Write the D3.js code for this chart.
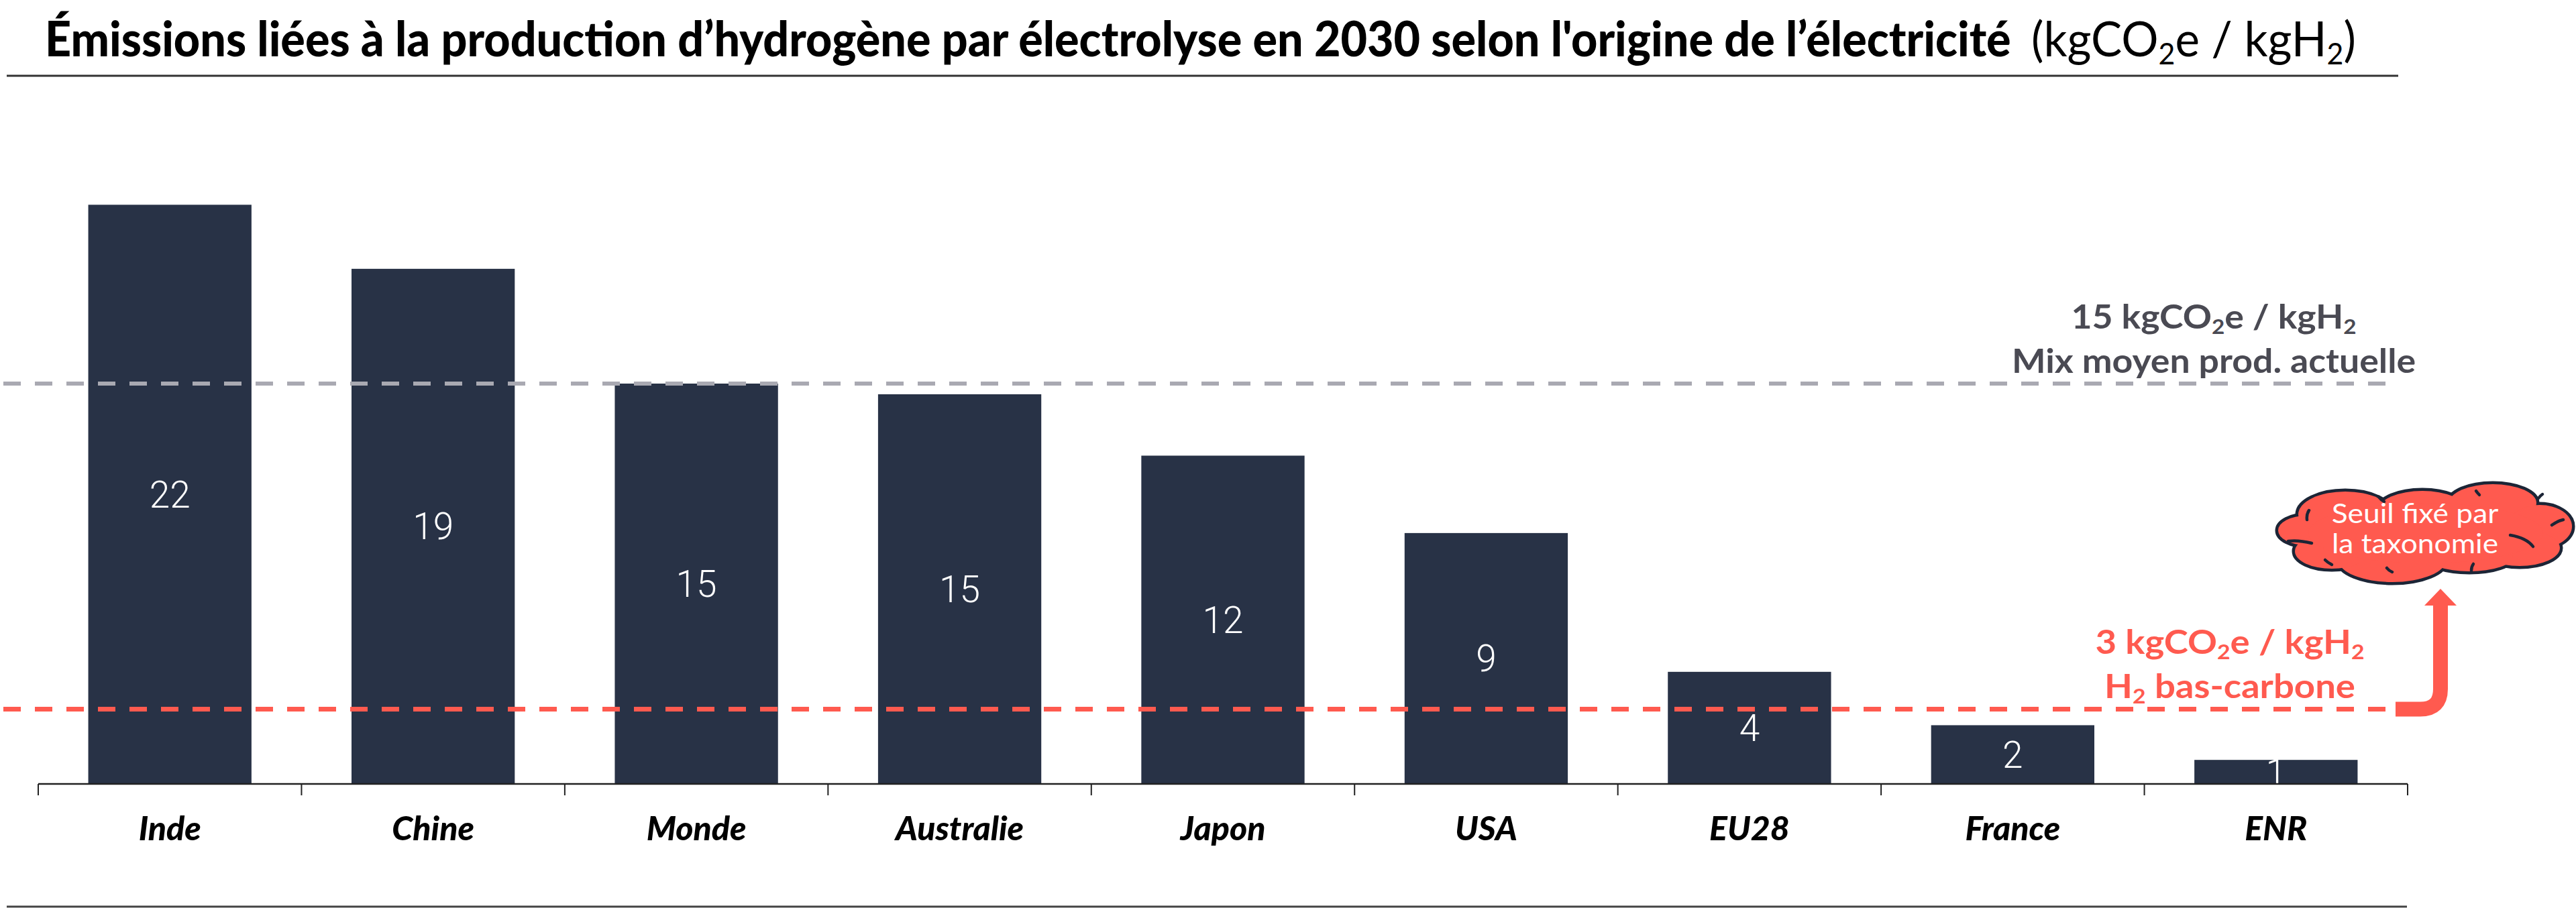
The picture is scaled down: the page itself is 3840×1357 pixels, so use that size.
<!DOCTYPE html>
<html><head><meta charset="utf-8">
<script src="https://cdn.jsdelivr.net/npm/d3@7"></script>
<style>html,body{margin:0;padding:0;background:#fff;} svg{display:block}</style>
</head><body>
<script>
// ---------- data ----------
const categories = ["Inde","Chine","Monde","Australie","Japon","USA","EU28","France","ENR"];
const values = [21.7, 19.3, 15.0, 14.6, 12.3, 9.4, 4.2, 2.2, 0.9];
const refValues = [15.0, 2.8];
const refLine1 = [[["15 kgCO",0],["2",1],["e / kgH",0],["2",1]], [["3 kgCO",0],["2",1],["e / kgH",0],["2",1]]];
const refLine2 = [[["Mix moyen prod. actuelle",0]], [["H",0],["2",1],[" bas-carbone",0]]];
const titleMain = "Émissions liées à la production d’hydrogène par électrolyse en 2030 selon l'origine de l’électricité";
const titleUnit = [["(kgCO",0],["2",1],["e / kgH",0],["2",1],[")",0]];
const cloudText = [[["Seuil fixé par",0]], [["la taxonomie",0]]];

// ---------- setup ----------
const W = 3840, H = 1357;
const BAR = "#283246", GRAY = "#a9a9b2", GRAYTXT = "#4a4a53", RED = "#ff5a4f", NAVY = "#1c2536";
const svg = d3.select("body").append("svg").attr("width", W).attr("height", H);
svg.append("rect").attr("width", W).attr("height", H).attr("fill", "#fff");

const x = d3.scaleBand().domain(categories).range([57, 3589]).paddingInner(0.38).paddingOuter(0.19);
const y = d3.scaleLinear().domain([0, 22]).range([1169, 1169 - 22 * 39.8]);

function addSegs(textSel, segs, size) {
  segs.forEach(([t, sub], i) => {
    const ts = textSel.append("tspan").text(t);
    if (sub) { ts.attr("font-size", size * 0.62).attr("dy", size * 0.16); }
    else if (i > 0 && segs[i-1][1]) { ts.attr("dy", -size * 0.16); }
  });
}
function fit(sel, tx, ty, target) {
  const w = sel.node().getBBox().width;
  sel.attr("transform", `translate(${tx},${ty}) scale(${target / w},1)`);
}
// multi-line centred block, one text element, common horizontal scale
function block(lines, cx, baselines, targets, size, weight, color) {
  const t = svg.append("text").attr("font-family", "Lato, 'Open Sans', sans-serif").attr("font-weight", weight)
    .attr("font-size", size).attr("fill", color).attr("text-anchor", "middle");
  const ls = lines.map((segs, i) => {
    const l = t.append("tspan").attr("x", 0).attr("y", baselines[i]);
    addSegs(l, segs, size);
    return l;
  });
  const ratios = ls.map((l, i) => targets[i] / l.node().getComputedTextLength());
  const s = d3.mean(ratios);
  t.attr("transform", `translate(${cx},0) scale(${s},1)`);
}

// ---------- title ----------
const t1 = svg.append("text").attr("font-family", "Lato, 'Open Sans', sans-serif").attr("font-weight", 900)
  .attr("font-size", 72).attr("fill", "#000").text(titleMain);
fit(t1, 67, 84, 2931);
const t2 = svg.append("text").attr("font-family", "Lato, 'Open Sans', sans-serif").attr("font-weight", 400)
  .attr("font-size", 72).attr("fill", "#000");
addSegs(t2, titleUnit, 72);
fit(t2, 3028, 84, 484);
svg.append("line").attr("x1", 10).attr("x2", 3575).attr("y1", 113).attr("y2", 113)
  .attr("stroke", "#333").attr("stroke-width", 3);
svg.append("line").attr("x1", 10).attr("x2", 3588).attr("y1", 1352).attr("y2", 1352)
  .attr("stroke", "#444").attr("stroke-width", 3);

// ---------- bars ----------
svg.append("g").selectAll("rect").data(categories).join("rect")
  .attr("x", d => x(d)).attr("width", x.bandwidth())
  .attr("y", (d, i) => y(values[i])).attr("height", (d, i) => y(0) - y(values[i]))
  .attr("fill", BAR);

const fmt = d3.format(".0f");
svg.append("g").selectAll("text").data(categories).join("text")
  .attr("x", d => x(d) + x.bandwidth() / 2)
  .attr("y", (d, i) => (y(values[i]) + y(0)) / 2 + 0.355 * 55)
  .attr("text-anchor", "middle").attr("fill", "#fff")
  .attr("font-family", "Roboto, sans-serif").attr("font-weight", 300).attr("font-size", 55)
  .text((d, i) => fmt(values[i]));

// ---------- axis ----------
const axis = svg.append("g").attr("transform", `translate(0,${y(0)})`)
  .call(d3.axisBottom(x).tickSize(0).tickPadding(48.5).tickSizeOuter(0));
axis.select(".domain").remove();
axis.selectAll("text").attr("font-family", "Lato, sans-serif").attr("font-weight", 900)
  .attr("font-style", "italic").attr("font-size", 50).attr("fill", "#000");
const step = x.step(), half = step * x.paddingInner() / 2;
const bounds = categories.map(c => x(c) - half).concat([x(categories[categories.length-1]) + x.bandwidth() + half]);
svg.append("line").attr("x1", bounds[0]).attr("x2", bounds[bounds.length-1])
  .attr("y1", y(0)).attr("y2", y(0)).attr("stroke", "#222").attr("stroke-width", 2.5);
svg.append("g").selectAll("line").data(bounds).join("line")
  .attr("x1", d => d).attr("x2", d => d).attr("y1", y(0)).attr("y2", y(0) + 17)
  .attr("stroke", "#222").attr("stroke-width", 2);

// ---------- reference lines ----------
svg.append("line").attr("x1", 5).attr("x2", 3564).attr("y1", y(refValues[0])).attr("y2", y(refValues[0]))
  .attr("stroke", GRAY).attr("stroke-width", 6).attr("stroke-dasharray", "26 21");
svg.append("line").attr("x1", 5).attr("x2", 3566).attr("y1", y(refValues[1])).attr("y2", y(refValues[1]))
  .attr("stroke", RED).attr("stroke-width", 7).attr("stroke-dasharray", "26 21");

block([refLine1[0], refLine2[0]], 3300, [490, 556], [420, 610], 50, 700, GRAYTXT);
block([refLine1[1], refLine2[1]], 3324, [975, 1041], [400, 375], 50, 700, RED);

// ---------- arrow ----------
const yr = y(refValues[1]);
svg.append("path").attr("d", `M3571,${yr} H3608 Q3638,${yr} 3638,${yr - 30} V900`)
  .attr("fill", "none").attr("stroke", RED).attr("stroke-width", 22);
svg.append("path").attr("d", "M3614,903 L3662,903 L3638,878 Z").attr("fill", RED);

// ---------- cloud ----------
const lobes = [
  [-178, -4, 42, 22], [-120, -28, 70, 34], [-5, -35, 65, 28], [100, -45, 65, 28],
  [170, -10, 48, 32], [140, 22, 60, 27], [65, 35, 65, 22], [-50, 40, 80, 33],
  [-140, 27, 55, 26], [0, 0, 175, 45]
];
const stubs = [
  "M-205,12 Q-190,10 -170,15", "M-177,-20 Q-178,-28 -174,-34", "M-70,-54 Q-66,-49 -62,-47",
  "M75,-63 Q77,-60 80,-57", "M168,-52 Q171,-56 174,-58", "M188,-12 Q196,-18 205,-20",
  "M126,3 Q150,7 160,20", "M68,56 Q68,50 71,46", "M-58,52 Q-55,56 -50,58", "M-150,40 Q-146,44 -140,47"
];
const cg = svg.append("g").attr("transform", "translate(3616,795)");
cg.selectAll("ellipse.o").data(lobes).join("ellipse").attr("class", "o")
  .attr("cx", d => d[0]).attr("cy", d => d[1]).attr("rx", d => d[2]).attr("ry", d => d[3])
  .attr("fill", RED).attr("stroke", NAVY).attr("stroke-width", 9);
cg.selectAll("ellipse.i").data(lobes).join("ellipse").attr("class", "i")
  .attr("cx", d => d[0]).attr("cy", d => d[1]).attr("rx", d => d[2]).attr("ry", d => d[3])
  .attr("fill", RED);
cg.selectAll("path.stub").data(stubs).join("path").attr("class", "stub").attr("d", d => d)
  .attr("fill", "none").attr("stroke", NAVY).attr("stroke-width", 4.5).attr("stroke-linecap", "round");
block(cloudText, 3600, [780, 825], [242, 255], 40, 400, "#fff");
</script>
</body></html>
